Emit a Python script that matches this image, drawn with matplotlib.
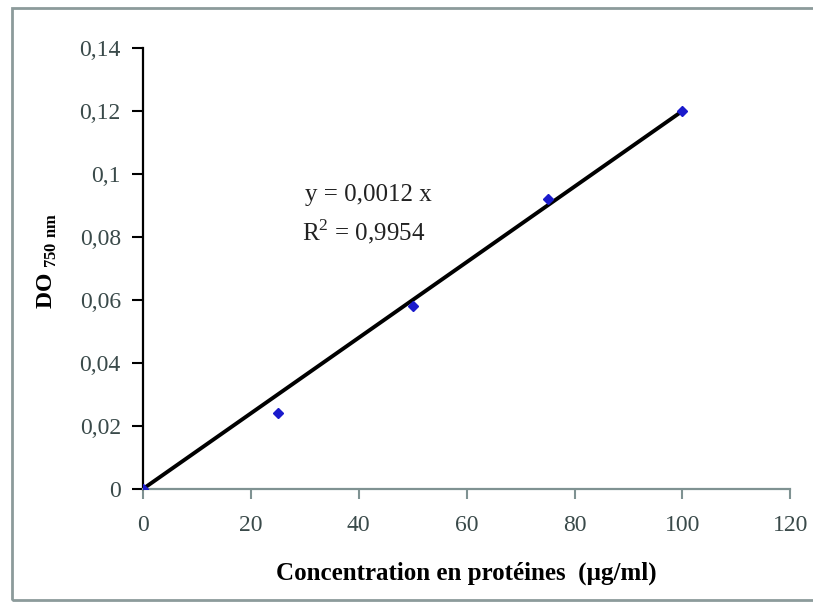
import matplotlib
matplotlib.use("Agg")
import matplotlib.pyplot as plt
import numpy as np
from matplotlib.patches import Rectangle

# --data
conc = [0, 25, 50, 75, 100]
do_750 = [0.0, 0.024, 0.058, 0.092, 0.120]
slope = 0.0012
r2_label = "0,9954"
x_ticks = [0, 20, 40, 60, 80, 100, 120]
y_ticks = [0, 0.02, 0.04, 0.06, 0.08, 0.1, 0.12, 0.14]
y_tick_labels = ["0", "0,02", "0,04", "0,06", "0,08", "0,1", "0,12", "0,14"]

plt.rcParams['font.family'] = ['Liberation Serif', 'DejaVu Serif']
plt.rcParams['mathtext.fontset'] = 'custom'
plt.rcParams['mathtext.rm'] = 'Liberation Serif'
plt.rcParams['mathtext.bf'] = 'Liberation Serif:bold'

fig = plt.figure(figsize=(8.13, 6.08), dpi=100)
ax = fig.add_axes([0.176, 0.196, 0.796, 0.725])

# outer chart frame (cut by the right edge as in the reference)
fig.patches.append(Rectangle((12/813, 1 - 600/608), 1.0, (600 - 8)/608,
                             transform=fig.transFigure, fill=False,
                             edgecolor='#8c9b9b', linewidth=2))

x_line = np.array([conc[0], conc[-1]])
ax.plot(x_line, slope * x_line, color='black', linewidth=2.8, zorder=2)
ax.plot(conc, do_750, linestyle='none', marker='D', markersize=5.5,
        color='#1a1acc', zorder=3)

ax.set_xlim(0, 120)
ax.set_ylim(0, 0.14)
ax.set_xticks(x_ticks)
ax.set_yticks(y_ticks)
ax.set_yticklabels(y_tick_labels)

for s in ['top', 'right']:
    ax.spines[s].set_visible(False)
ax.spines['left'].set_color('black')
ax.spines['left'].set_linewidth(1.6)
ax.spines['bottom'].set_color('#7f9292')
ax.spines['bottom'].set_linewidth(1.6)
ax.tick_params(axis='y', direction='out', length=8, width=1.5, color='black',
               labelsize=17, labelcolor='#3a4a4a', pad=8)
ax.tick_params(axis='x', direction='out', length=7, width=1.5, color='#7f9292',
               labelsize=17, labelcolor='#3a4a4a', pad=12)

ax.text(30, 0.0915, "y = 0,0012 x", fontsize=18, color='#222222')
ax.text(29.5, 0.0790, "R$^2$ = " + r2_label, fontsize=18, color='#222222')

ax.set_xlabel("Concentration en protéines  (µg/ml)", fontsize=18,
              fontweight='bold', labelpad=18)
fig.text(0.058, 0.57, "DO$_{\\mathbf{\\ 750\\ nm}}$", rotation=90, fontsize=17,
         fontweight='bold', ha='center', va='center')

fig.savefig("out.png", dpi=100)
